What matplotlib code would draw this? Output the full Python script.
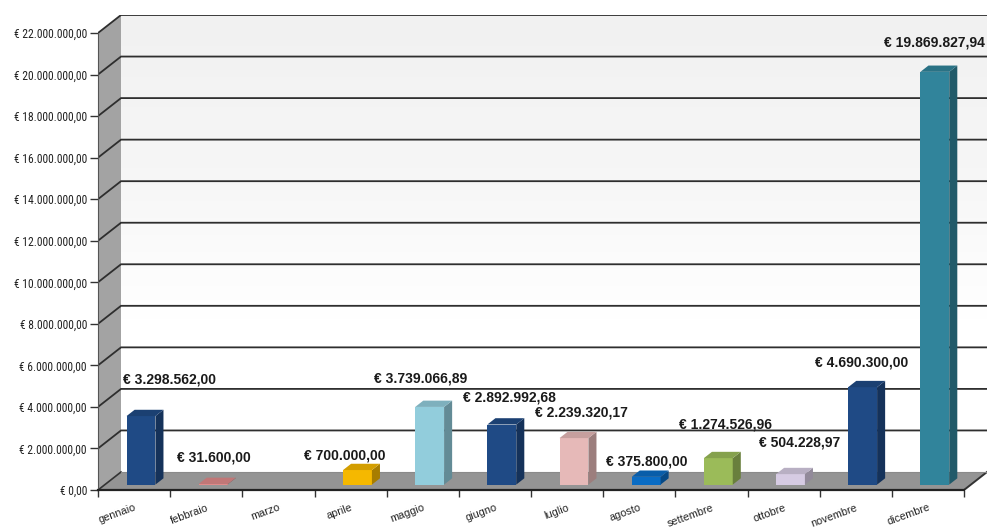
import numpy as np
import matplotlib
matplotlib.use("Agg")
import matplotlib.pyplot as plt
from matplotlib.patches import Polygon
from matplotlib.colors import LinearSegmentedColormap, to_rgb
from matplotlib.ticker import FuncFormatter
from matplotlib import font_manager

# Importi mensili
mesi = ["gennaio", "febbraio", "marzo", "aprile", "maggio", "giugno",
        "luglio", "agosto", "settembre", "ottobre", "novembre", "dicembre"]
importi = [3298562.00, 31600.00, 0.00, 700000.00, 3739066.89, 2892992.68,
           2239320.17, 375800.00, 1274526.96, 504228.97, 4690300.00, 19869827.94]
colori = ["#1f4a85", "#e08a8a", "#cccccc", "#f5b800", "#92cddc", "#1f4a85",
          "#e6b9b8", "#0a6cc4", "#9bbb59", "#d6cbe3", "#1f4a85", "#31849b"]
# spostamento delle etichette rispetto alla cima della barra (pixel)
spost_etichette = [(29, 37), (1, 26), (0, 0), (-13, 15), (-9, 28), (8, 27),
                   (7, 26), (1, 15), (7, 34), (9, 32), (-1, 25), (0, 29)]

YMAX = 22e6
N = len(mesi)


def euro(v, pos=None):
    s = "{:,.2f}".format(v).replace(",", "X").replace(".", ",").replace("X", ".")
    return "€ " + s


def scuro(col, f):
    r, g, b = to_rgb(col)
    return (r * f, g * f, b * f)


# carattere stretto per le etichette dell'asse y, se c'è
nomi = {f.name for f in font_manager.fontManager.ttflist}
font_assi, size_assi = "Liberation Sans", 7.4
for nome, dim in [("Liberation Sans Narrow", 8.8), ("Roboto Condensed", 8.4),
                  ("DejaVu Sans Condensed", 7.6), ("Open Sans Condensed", 8.4)]:
    if nome in nomi:
        font_assi, size_assi = nome, dim
        break

plt.rcParams["font.family"] = ["Liberation Sans", "DejaVu Sans"]

fig = plt.figure(figsize=(9.89, 5.29), dpi=100)
# profondità della scena (parete di fondo spostata a destra e in alto)
px_cat = 866 / N
px_val = 457 / YMAX
DX = 23 / px_cat
DY = 18 / px_val
ax = fig.add_axes([98 / 989, 39 / 529, (866 + 23) / 989, (457 + 18) / 529])

# parete di fondo con sfumatura
grad = np.linspace(0, 1, 256).reshape(-1, 1)
cmap = LinearSegmentedColormap.from_list("fondo", ["#ffffff", "#ffffff", "#f6f6f6", "#f1f1f1"])
ax.imshow(grad, extent=[DX, N + DX, DY, YMAX + DY], origin="lower",
          aspect="auto", cmap=cmap, zorder=0)
ax.set_xlim(0, N + DX)
ax.set_ylim(0, YMAX + DY)

# parete sinistra e pavimento
ax.add_patch(Polygon([(0, 0), (0, YMAX), (DX, YMAX + DY), (DX, DY)],
                     closed=True, facecolor="#a3a3a3", edgecolor="none", zorder=1))
ax.add_patch(Polygon([(0, 0), (N, 0), (N + DX, DY), (DX, DY)],
                     closed=True, facecolor="#949494", edgecolor="none", zorder=1))

# griglia
for v in np.arange(2e6, YMAX + 1, 2e6):
    ax.plot([0, DX, N + DX], [v, v + DY, v + DY], color="#2e2e2e", lw=1.3,
            zorder=2, solid_joinstyle="miter")
ax.plot([0, DX], [0, DY], color="#333333", lw=1.2, zorder=2)
ax.plot([N, N + DX], [0, DY], color="#333333", lw=1.4, zorder=2)
ax.plot([DX, N + DX], [DY, DY], color="#8a8a8a", lw=0.8, zorder=2)

# barre 3D
f0 = 0.3      # distanza della faccia anteriore dal bordo del pavimento
fd = 0.35     # profondità della barra
larg = 0.40
x = np.arange(N) + 0.5 + f0 * DX
base = f0 * DY
ddx, ddy = fd * DX, fd * DY
for i in range(N):
    v = importi[i]
    if v <= 0:
        continue
    xl, xr = x[i] - larg / 2, x[i] + larg / 2
    ax.bar(x[i], v, width=larg, bottom=base, color=colori[i], zorder=3 + i)
    ax.add_patch(Polygon([(xr, base), (xr, base + v), (xr + ddx, base + v + ddy),
                          (xr + ddx, base + ddy)], closed=True,
                         facecolor=scuro(colori[i], 0.68), edgecolor="none", zorder=3 + i))
    ax.add_patch(Polygon([(xl, base + v), (xr, base + v), (xr + ddx, base + v + ddy),
                          (xl + ddx, base + v + ddy)], closed=True,
                         facecolor=scuro(colori[i], 0.86), edgecolor="none", zorder=3 + i))
    ox, oy = spost_etichette[i]
    ax.annotate(euro(v), (x[i], base + v), xytext=(ox, oy), textcoords="offset pixels",
                ha="center", va="center", fontsize=10, fontweight="bold",
                color="#1a1a1a", zorder=20, annotation_clip=False)

# assi
for s in ["top", "right"]:
    ax.spines[s].set_visible(False)
ax.spines["left"].set_bounds(0, YMAX)
ax.spines["left"].set_color("#555555")
ax.spines["left"].set_zorder(2.5)
ax.spines["bottom"].set_bounds(0, N)
ax.spines["bottom"].set_color("#222222")
ax.spines["bottom"].set_linewidth(1.6)

ax.set_yticks(np.arange(0, YMAX + 1, 2e6))
ax.yaxis.set_major_formatter(FuncFormatter(euro))
ax.tick_params(axis="y", direction="out", length=6, width=1, color="#333333",
               pad=2, labelsize=size_assi, labelcolor="#222222")
for t in ax.get_yticklabels():
    t.set_fontfamily(font_assi)

ax.set_xticks(np.arange(0, N + 1))
ax.set_xticklabels([])
ax.tick_params(axis="x", which="major", direction="out", length=5, width=1, color="#333333")
ax.set_xticks(np.arange(N) + 0.5, minor=True)
ax.set_xticklabels(mesi, minor=True, rotation=20, ha="right", rotation_mode="anchor",
                   fontsize=7.8, color="#222222")
ax.tick_params(axis="x", which="minor", length=0, pad=9)

fig.savefig("out.png", dpi=100)
